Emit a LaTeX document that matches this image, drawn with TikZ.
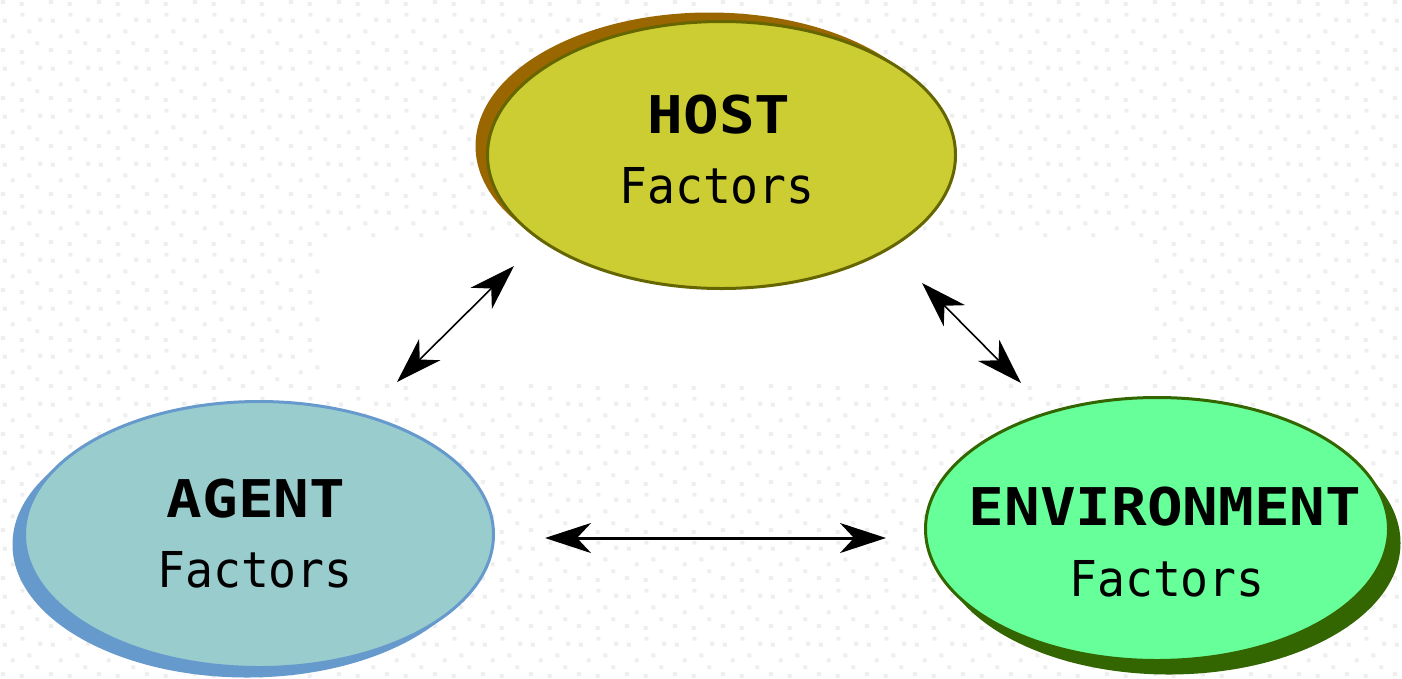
\documentclass[tikz,border=0pt]{standalone}
\usepackage{fontspec}
\usetikzlibrary{shapes.geometric,shadows,arrows.meta,patterns}
\newfontfamily\titlefont[FakeStretch=1.14]{DejaVu Sans Mono}
\newfontfamily\subfont[FakeStretch=0.94]{DejaVu Sans Mono}
\definecolor{hostfill}{HTML}{CCCC33}
\definecolor{hostline}{HTML}{666600}
\definecolor{hostshadow}{HTML}{996600}
\definecolor{agentfill}{HTML}{99CCCC}
\definecolor{agentline}{HTML}{6699CC}
\definecolor{envfill}{HTML}{66FF99}
\definecolor{envline}{HTML}{336600}
\definecolor{dotgray}{HTML}{EEEEEE}
\pgfdeclarepatternformonly{bgdots}{\pgfpointorigin}{\pgfpoint{48pt}{48pt}}{\pgfpoint{48pt}{48pt}}{%
  \pgfpathrectangle{\pgfpoint{2pt}{3pt}}{\pgfpoint{4pt}{4pt}}%
  \pgfpathrectangle{\pgfpoint{21pt}{1pt}}{\pgfpoint{4pt}{4pt}}%
  \pgfpathrectangle{\pgfpoint{37pt}{10pt}}{\pgfpoint{4pt}{4pt}}%
  \pgfpathrectangle{\pgfpoint{12pt}{17pt}}{\pgfpoint{4pt}{4pt}}%
  \pgfpathrectangle{\pgfpoint{29pt}{22pt}}{\pgfpoint{4pt}{4pt}}%
  \pgfpathrectangle{\pgfpoint{4pt}{33pt}}{\pgfpoint{4pt}{4pt}}%
  \pgfpathrectangle{\pgfpoint{22pt}{39pt}}{\pgfpoint{4pt}{4pt}}%
  \pgfpathrectangle{\pgfpoint{40pt}{34pt}}{\pgfpoint{4pt}{4pt}}%
  \pgfusepath{fill}}
\begin{document}
\begin{tikzpicture}[x=1pt,y=-1pt,
  factor/.style={ellipse, line width=3pt, inner sep=0pt},
  titletext/.style={anchor=base, inner sep=0pt, font=\titlefont\bfseries\fontsize{52pt}{60pt}\selectfont},
  subtext/.style={anchor=base, inner sep=0pt, font=\subfont\fontsize{49.4pt}{58pt}\selectfont},
  link/.style={{Stealth[length=46pt,width=30pt,inset=14pt]}-{Stealth[length=46pt,width=30pt,inset=14pt]}, black}]
\useasboundingbox (0,0) rectangle (1402,678);
\fill[white] (0,0) rectangle (1402,678);
\fill[pattern=bgdots, pattern color=dotgray] (0,0) rectangle (1402,678);
\fill[white] (320,240) rectangle (1148,382);
% ellipses
\node[factor, draw=hostline, fill=hostfill, minimum width=468pt, minimum height=267pt,
  drop shadow={shadow xshift=-12pt, shadow yshift=9pt, fill=hostshadow, opacity=1}] (host) at (721.5,155) {};
\node[factor, draw=agentline, fill=agentfill, minimum width=469pt, minimum height=266pt,
  drop shadow={shadow xshift=-12pt, shadow yshift=-10pt, fill=agentline, opacity=1}] (agent) at (259,534.5) {};
\node[factor, draw=envline, fill=envfill, minimum width=463pt, minimum height=263pt,
  drop shadow={shadow xshift=12pt, shadow yshift=-14pt, fill=envline, opacity=1}] (env) at (1157,529) {};
% texts
\node[titletext] (hostT) at (719,133) {HOST};
\node[subtext] (hostS) at (717,203) {Factors};
\node[titletext] (agentT) at (256,517) {AGENT};
\node[subtext] (agentS) at (255,587) {Factors};
\node[titletext] (envT) at (1165,525) {ENVIRONMENT};
\node[subtext] (envS) at (1167,596) {Factors};
% connectors
\coordinate (ha1) at (514,266);
\coordinate (ha2) at (397,382);
\coordinate (he1) at (922,283);
\coordinate (he2) at (1021,383);
\coordinate (ae1) at (545,538);
\coordinate (ae2) at (886,538);
\draw[link, line width=1.6pt] (ha1) -- (ha2);
\draw[link, line width=1.6pt] (he1) -- (he2);
\draw[link, line width=3pt] (ae1) -- (ae2);
\end{tikzpicture}
\end{document}
